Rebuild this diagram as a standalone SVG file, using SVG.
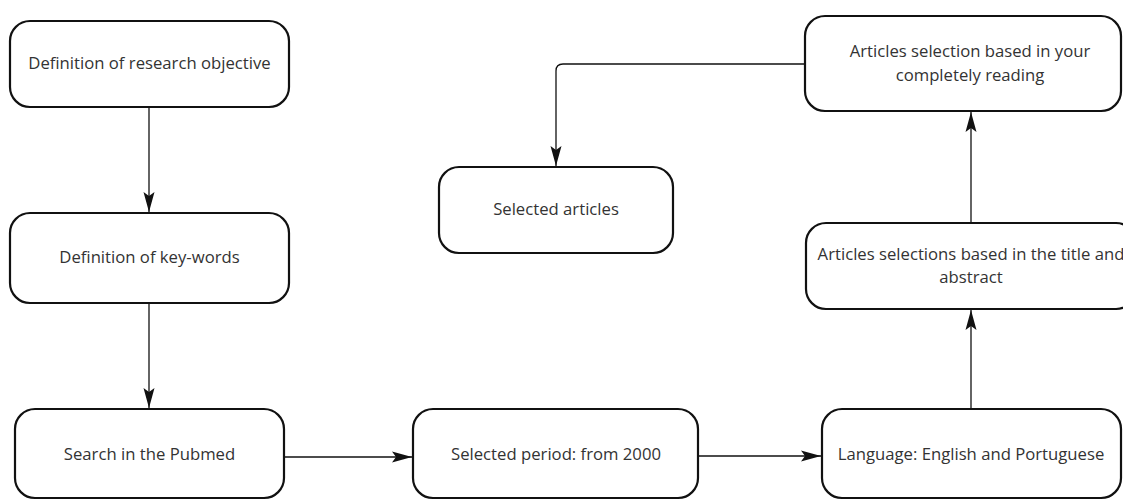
<svg xmlns="http://www.w3.org/2000/svg" width="1123" height="500" viewBox="0 0 1123 500">
<style>
.box{fill:#fff;stroke:#111;stroke-width:2.2}
.t{font-family:"Open Sans","Noto Sans",sans-serif;font-size:16.7px;fill:#333;text-anchor:middle}
.c{fill:none;stroke:#111;stroke-width:1.3}
</style>
<defs>
<marker id="ah" markerUnits="userSpaceOnUse" markerWidth="20" markerHeight="12" refX="20" refY="6" orient="auto" viewBox="0 0 20 12">
<path d="M0,0.5 L20,6 L0,11.5 L4,6 Z" fill="#111"/>
</marker>
</defs>
<rect width="1123" height="500" fill="#fff"/>
<g id="connectors">
<path class="c" d="M149,107 V212" marker-end="url(#ah)"/>
<path class="c" d="M149,303 V408" marker-end="url(#ah)"/>
<path class="c" d="M284,457 H412" marker-end="url(#ah)"/>
<path class="c" d="M698,456 H821" marker-end="url(#ah)"/>
<path class="c" d="M971,409 V310" marker-end="url(#ah)"/>
<path class="c" d="M971,223 V112" marker-end="url(#ah)"/>
<path class="c" d="M805,64 H563 Q556,64 556,71 V166" marker-end="url(#ah)"/>
</g>
<g id="n1"><rect class="box" x="10" y="21" width="279" height="86" rx="20"/><text class="t" x="149.5" y="69">Definition of research objective</text></g>
<g id="n2"><rect class="box" x="10" y="213" width="279" height="90" rx="20"/><text class="t" x="149.5" y="263">Definition of key-words</text></g>
<g id="n3"><rect class="box" x="15" y="409" width="269" height="89" rx="20"/><text class="t" x="149.5" y="460">Search in the Pubmed</text></g>
<g id="n4"><rect class="box" x="413" y="409" width="285" height="89" rx="20"/><text class="t" x="556" y="460">Selected period: from 2000</text></g>
<g id="n5"><rect class="box" x="822" y="409" width="299" height="89" rx="20"/><text class="t" x="971" y="460">Language: English and Portuguese</text></g>
<g id="n6"><rect class="box" x="806" y="223" width="330" height="86" rx="20"/><text class="t" x="971" y="260">Articles selections based in the title and</text><text class="t" x="971" y="283">abstract</text></g>
<g id="n7"><rect class="box" x="805" y="16" width="316" height="95" rx="20"/><text class="t" x="970" y="57">Articles selection based in your</text><text class="t" x="970" y="81">completely reading</text></g>
<g id="n8"><rect class="box" x="439" y="167" width="234" height="86" rx="20"/><text class="t" x="556" y="215">Selected articles</text></g>
</svg>
